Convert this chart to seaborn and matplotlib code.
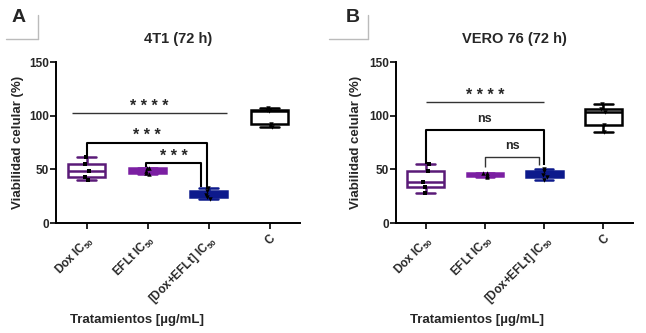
import numpy as np
import pandas as pd
import seaborn as sns
import matplotlib.pyplot as plt
from matplotlib.lines import Line2D

sns.set_style('ticks')
plt.rcParams['font.family'] = ['Liberation Sans', 'DejaVu Sans']
plt.rcParams['font.weight'] = 'bold'
plt.rcParams['mathtext.fontset'] = 'custom'
plt.rcParams['mathtext.rm'] = 'Liberation Sans'

# categories / labels
cats = ['Dox', 'EFLt', 'Dox+EFLt', 'C']
tick_labels = ['Dox IC$_{50}$', 'EFLt IC$_{50}$', '[Dox+EFLt] IC$_{50}$', 'C']

# panel A: 4T1 (72 h), viability %
a_dox = [40.5, 43.0, 48.5, 55.0, 61.5]
a_eflt = [45.5, 46.2, 48.3, 51.0, 51.4]
a_combo = [22.0, 24.0, 26.5, 29.5, 33.0]
a_c = [89.5, 92.0, 104.0, 105.7, 107.5]

# panel B: VERO 76 (72 h), viability %
b_dox = [27.6, 33.5, 38.5, 48.5, 55.0]
b_eflt = [43.0, 43.5, 45.0, 46.5, 47.0]
b_combo = [40.0, 42.5, 44.5, 48.5, 50.0]
b_c = [85.0, 91.7, 103.8, 106.6, 110.5]

fills = ['white', '#7b1fa2', '#0d1a8c', 'white']
edges = ['#5a1a78', '#7b1fa2', '#0d1a8c', 'black']
markers = ['s', '^', 'v', 'v']

# significance brackets: (x1, x2, y, drop1, drop2, label, thick)
brackets_a = [
    (-0.23, 2.3, 102.6, None, None, '* * * *', False),
    (0, 1.98, 75, 61.7, 32, '* * *', True),
    (0.98, 1.88, 56, 52, 34, '* * *', True),
]
brackets_b = [
    (0, 2, 112.5, None, None, '* * * *', False),
    (0, 2, 87, 55, 54, 'ns', True),
    (1, 1.92, 61.7, 52.4, 54, 'ns', False),
]


def make_df(vals):
    rows = []
    for c, v in zip(cats, vals):
        for x in v:
            rows.append({'grupo': c, 'viab': x})
    return pd.DataFrame(rows)


def panel(ax, df, title, brackets, xlab_x, ylab_x):
    for i, c in enumerate(cats):
        sub = df[df.grupo == c]
        sns.boxplot(data=sub, x='grupo', y='viab', order=cats, color=fills[i],
                    linecolor=edges[i], saturation=1, width=0.62, whis=(0, 100),
                    linewidth=1.8, ax=ax)
        sns.stripplot(data=sub, x='grupo', y='viab', order=cats, color='black',
                      size=3.2, jitter=0.05, marker=markers[i], ax=ax)
    ax.set_xlim(-0.5, 3.5)
    ax.set_ylim(0, 150)
    ax.set_yticks([0, 50, 100, 150])
    ax.set_xticks(range(len(cats)))
    ax.set_xticklabels(tick_labels, rotation=45, ha='right', rotation_mode='anchor',
                       fontsize=8.5, fontweight='bold')
    ax.tick_params(axis='y', labelsize=8.5, width=1.4, length=4, pad=1)
    ax.tick_params(axis='x', width=1.4, length=4, pad=3)
    for s in ['left', 'bottom']:
        ax.spines[s].set_linewidth(1.4)
        ax.spines[s].set_color('black')
    sns.despine(ax=ax)
    ax.set_title(title, fontsize=10.5, fontweight='bold', pad=14)
    ax.set_ylabel('Viabilidad celular (%)', fontsize=9.5, fontweight='bold')
    ax.yaxis.set_label_coords(ylab_x, 0.5)
    ax.set_xlabel('Tratamientos [\u00b5g/mL]', fontsize=9.5, fontweight='bold')
    ax.xaxis.set_label_coords(xlab_x, -0.565)

    for x1, x2, y, d1, d2, lab, thick in brackets:
        lw = 1.5 if thick else 1.0
        col = 'black' if thick else '#333333'
        xs = [x1, x2]
        ys = [y, y]
        if d1 is not None:
            xs = [x1, x1, x2, x2]
            ys = [d1, y, y, d2]
        ax.plot(xs, ys, color=col, lw=lw, solid_capstyle='butt', clip_on=False)
        if lab.startswith('*'):
            ax.text((x1 + x2) / 2, y + 2, lab, ha='center', va='baseline',
                    fontsize=11.5, fontweight='bold')
        else:
            ax.text((x1 + x2) / 2, y + 7.5, lab, ha='center', va='baseline',
                    fontsize=9, fontweight='bold')


fig = plt.figure(figsize=(6.46, 3.33), dpi=100)
axA = fig.add_axes([0.0867, 0.3303, 0.3777, 0.4835])
axB = fig.add_axes([0.613, 0.3303, 0.367, 0.4835])

panel(axA, make_df([a_dox, a_eflt, a_combo, a_c]), '4T1 (72 h)', brackets_a, 0.33, -0.131)
panel(axB, make_df([b_dox, b_eflt, b_combo, b_c]), 'VERO 76 (72 h)', brackets_b, 0.34, -0.143)

# panel letters with corner frame
for letter, cx, x0, x1 in [('A', 19, 6, 38), ('B', 353, 329, 368)]:
    fig.text(cx / 646, 1 - 17 / 333, letter, fontsize=14, fontweight='bold',
             ha='center', va='center')
    fig.add_artist(Line2D([x0 / 646, x1 / 646], [1 - 39 / 333] * 2, color='#bbbbbb', lw=1))
    fig.add_artist(Line2D([x1 / 646] * 2, [1 - 15 / 333, 1 - 39 / 333], color='#bbbbbb', lw=1))

fig.savefig('out.png', dpi=100)
